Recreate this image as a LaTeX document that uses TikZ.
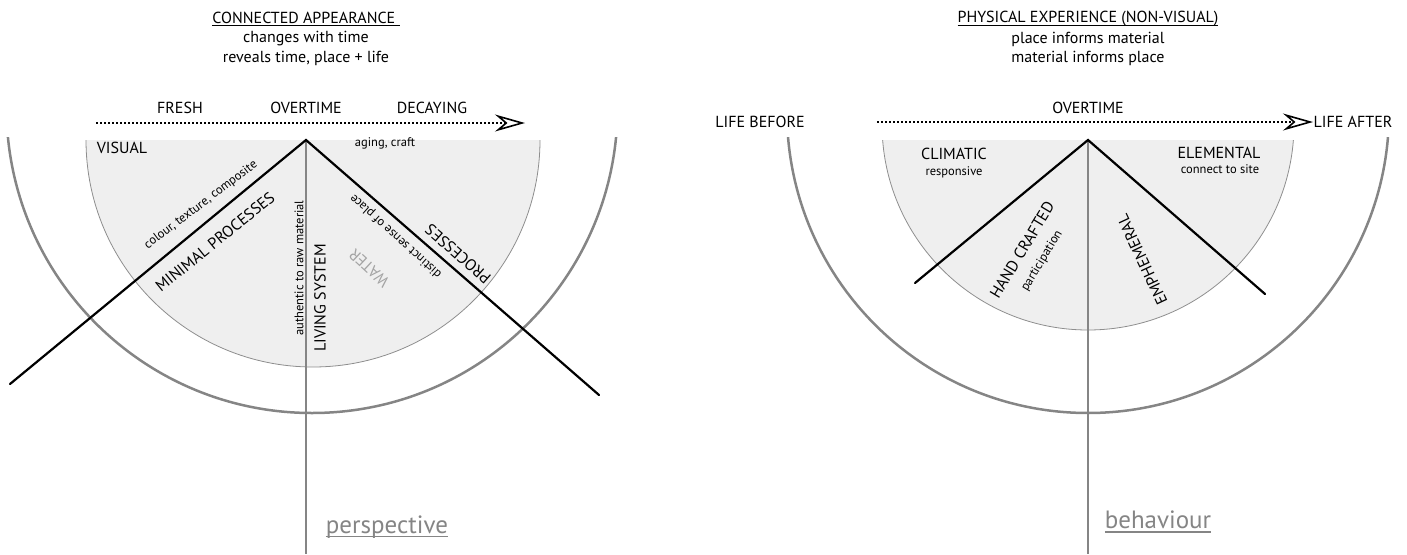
\documentclass[tikz,border=0pt]{standalone}
\usepackage{fontspec}
\setmainfont{PT Sans}
\usetikzlibrary{arrows.meta}

\definecolor{paleshade}{HTML}{EFEFEF}
\definecolor{rimgray}{HTML}{858585}
\definecolor{edgegray}{HTML}{8E8E8E}
\definecolor{watergray}{HTML}{A4A4A4}

\newcommand{\fsz}[1]{\fontsize{#1}{#1}\selectfont}
% underline with given rule thickness and drop
\newcommand{\uln}[3]{\setbox0\hbox{#3}\rlap{\raisebox{-#2}{\rule{\wd0}{#1}}}\box0}

\tikzset{
  lbl/.style={font=\fsz{16}, inner sep=0pt},
  note/.style={font=\fsz{12.5}, inner sep=0pt},
  big/.style={font=\fsz{25}, text=rimgray, inner sep=0pt},
  rim/.style={draw=rimgray, line width=2.5pt},
  disc/.style={fill=paleshade, draw=edgegray, line width=0.8pt},
  bar/.style={line width=2.2pt, line cap=round},
  stem/.style={draw=rimgray, line width=2pt},
  timeline/.style={line width=2pt, dash pattern=on 2pt off 2pt,
    -{Stealth[open, length=30pt, width=17pt, inset=10pt, line width=1.6pt]}},
}

\begin{document}
\begin{tikzpicture}[x=1pt, y=-1pt]
\useasboundingbox (0,0) rectangle (1407,554);

% connected appearance
\begin{scope}
  \clip (0,140) rectangle (700,554);
  \draw[disc] (313,140) circle[radius=227];
\end{scope}
\begin{scope}
  \clip (0,137) rectangle (700,554);
  \draw[rim] (312,107.5) circle[radius=305.5];
\end{scope}

\coordinate (apexL) at (306,140);
\coordinate (footL) at (306,554);
\coordinate (tipLL) at (10,384);
\coordinate (tipLR) at (599,395);
\coordinate (tlLs) at (96,123);
\coordinate (tlLe) at (525,123);

\draw[stem] (apexL) -- (footL);
\draw[bar] (tipLL) -- (apexL) -- (tipLR);
\draw[timeline] (tlLs) -- (tlLe);

\node[lbl] (ttlL) at (306,19) {\uln{0.9pt}{3pt}{CONNECTED APPEARANCE\ }};
\node[lbl] (subL1) at (306,39) {changes with time};
\node[lbl] (subL2) at (306,58) {reveals time, place + life};

\node[lbl] (fresh) at (180,108) {FRESH};
\node[lbl] (overL) at (306,108) {OVERTIME};
\node[lbl] (decay) at (432,108) {DECAYING};

\node[lbl] (visual) at (122,148) {VISUAL};
\node[note] (aging) at (385,143) {aging, craft};
\node[note, rotate=37] (colour) at (201,205) {colour, texture, composite};
\node[lbl, rotate=39] (minimal) at (215,242) {MINIMAL PROCESSES};
\node[note, rotate=90] (authentic) at (299,268) {authentic to raw material};
\node[lbl, rotate=90] (living) at (320,298) {LIVING SYSTEM};
\node[lbl, rotate=137, text=watergray] (water) at (369,268) {WATER};
\node[note, rotate=138] (distinct) at (396,236) {distinct sense of place};
\node[lbl, rotate=139] (processes) at (458,254) {PROCESSES};

\node[big] (persp) at (387,527) {\uln{1.8pt}{4pt}{perspective}};

% physical experience
\begin{scope}
  \clip (700,140) rectangle (1407,554);
  \draw[disc] (1088,124) circle[radius=206];
\end{scope}
\begin{scope}
  \clip (700,137) rectangle (1407,554);
  \draw[rim] (1088,112) circle[radius=301];
\end{scope}

\coordinate (apexR) at (1088,140);
\coordinate (footR) at (1088,554);
\coordinate (tipRL) at (915,283);
\coordinate (tipRR) at (1265,294);
\coordinate (tlRs) at (877,122);
\coordinate (tlRe) at (1313,122);

\draw[stem] (apexR) -- (footR);
\draw[bar] (tipRL) -- (apexR) -- (tipRR);
\draw[timeline] (tlRs) -- (tlRe);

\node[lbl] (ttlR) at (1088,19) {\uln{0.9pt}{3pt}{PHYSICAL EXPERIENCE (NON-VISUAL)}};
\node[lbl] (subR1) at (1088,39) {place informs material};
\node[lbl] (subR2) at (1088,58) {material informs place};

\node[lbl] (overR) at (1088,108) {OVERTIME};
\node[lbl] (before) at (760,122) {LIFE BEFORE};
\node[lbl] (after) at (1353,122) {LIFE AFTER};

\node[lbl] (climatic) at (954,154) {CLIMATIC};
\node[note] (responsive) at (954,172) {responsive};
\node[lbl] (elemental) at (1219,153) {ELEMENTAL};
\node[note] (connect) at (1220,169) {connect to site};
\node[lbl, rotate=59] (hand) at (1022,250) {HAND CRAFTED};
\node[note, rotate=59] (particip) at (1042,261) {participation};
\node[lbl, rotate=115] (ephem) at (1142,260) {EMPHEMERAL};

\node[big] (behav) at (1158,522) {\uln{1.8pt}{4pt}{behaviour}};

\end{tikzpicture}
\end{document}
